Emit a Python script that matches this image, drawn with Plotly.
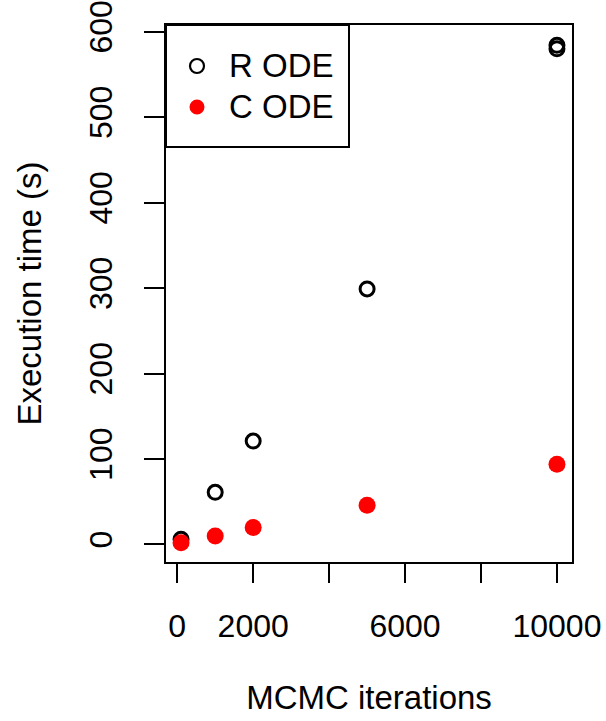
import plotly.graph_objects as go

# Data
iterations_r = [100, 1000, 2000, 5000, 10000, 10000]
time_r = [6, 61, 121, 299, 580, 584]
iterations_c = [100, 1000, 2000, 5000, 10000]
time_c = [2, 10, 20, 46, 94]

x_tickvals = [0, 2000, 4000, 6000, 8000, 10000]
x_ticktext = ["0", "2000", "", "6000", "", "10000"]
y_tickvals = [0, 100, 200, 300, 400, 500, 600]

FONT = "Liberation Sans, Arial, Helvetica, sans-serif"

fig = go.Figure()
fig.add_trace(go.Scatter(
    x=iterations_r, y=time_r, mode="markers", name="R ODE",
    marker=dict(symbol="circle-open", size=14, color="black",
                line=dict(width=3, color="black")),
    showlegend=False, cliponaxis=False))
fig.add_trace(go.Scatter(
    x=iterations_c, y=time_c, mode="markers", name="C ODE",
    marker=dict(symbol="circle", size=17, color="#ff0000",
                line=dict(width=0)),
    showlegend=False, cliponaxis=False))

W, H = 606, 721
L, R, T, B = 166, 34, 25, 159
pw, ph = W - L - R, H - T - B

def px_x(p):
    return (p - L) / pw

def px_y(p):
    return 1 - (p - T) / ph

# legend box (drawn manually to match R's legend)
shapes = [
    dict(type="rect", xref="paper", yref="paper",
         x0=px_x(166), x1=px_x(349), y0=px_y(147), y1=px_y(25),
         line=dict(color="black", width=2), fillcolor="white", layer="above"),
    dict(type="circle", xref="paper", yref="paper", xsizemode="pixel", ysizemode="pixel",
         xanchor=px_x(197), yanchor=px_y(66), x0=-7, x1=7, y0=-7, y1=7,
         line=dict(color="black", width=2.2), fillcolor="white", layer="above"),
    dict(type="circle", xref="paper", yref="paper", xsizemode="pixel", ysizemode="pixel",
         xanchor=px_x(197), yanchor=px_y(107), x0=-7.5, x1=7.5, y0=-7.5, y1=7.5,
         line=dict(color="#ff0000", width=0), fillcolor="#ff0000", layer="above"),
]
annotations = [
    dict(text="R ODE", xref="paper", yref="paper", x=px_x(227), y=px_y(66),
         xanchor="left", yanchor="middle", showarrow=False,
         font=dict(size=33, color="black", family=FONT)),
    dict(text="C ODE", xref="paper", yref="paper", x=px_x(227), y=px_y(107),
         xanchor="left", yanchor="middle", showarrow=False,
         font=dict(size=33, color="black", family=FONT)),
]

fig.update_layout(
    width=W, height=H,
    margin=dict(l=L, r=R, t=T, b=B, autoexpand=False),
    paper_bgcolor="white", plot_bgcolor="white",
    font=dict(family=FONT, size=32, color="black"),
    shapes=shapes, annotations=annotations,
)
fig.update_xaxes(
    range=[-296, 10396], tickvals=x_tickvals, ticktext=x_ticktext,
    ticks="outside", ticklen=19, tickwidth=2, tickcolor="black",
    showline=True, linecolor="black", linewidth=2, mirror=True,
    showgrid=False, zeroline=False, automargin=False,
    tickfont=dict(size=32, family=FONT, color="black"),
    ticklabelstandoff=16,
    title=dict(text="MCMC iterations", standoff=42,
               font=dict(size=33, family=FONT, color="black")),
)
fig.update_yaxes(
    range=[-20.5, 607.8], tickvals=y_tickvals,
    ticks="outside", ticklen=20, tickwidth=2, tickcolor="black",
    showline=True, linecolor="black", linewidth=2, mirror=True,
    showgrid=False, zeroline=False, tickangle=-90, automargin=False,
    tickfont=dict(size=32, family=FONT, color="black"),
    ticklabelstandoff=19,
    title=dict(text="Execution time (s)", standoff=32,
               font=dict(size=33, family=FONT, color="black")),
)

fig.write_html("out.html")
